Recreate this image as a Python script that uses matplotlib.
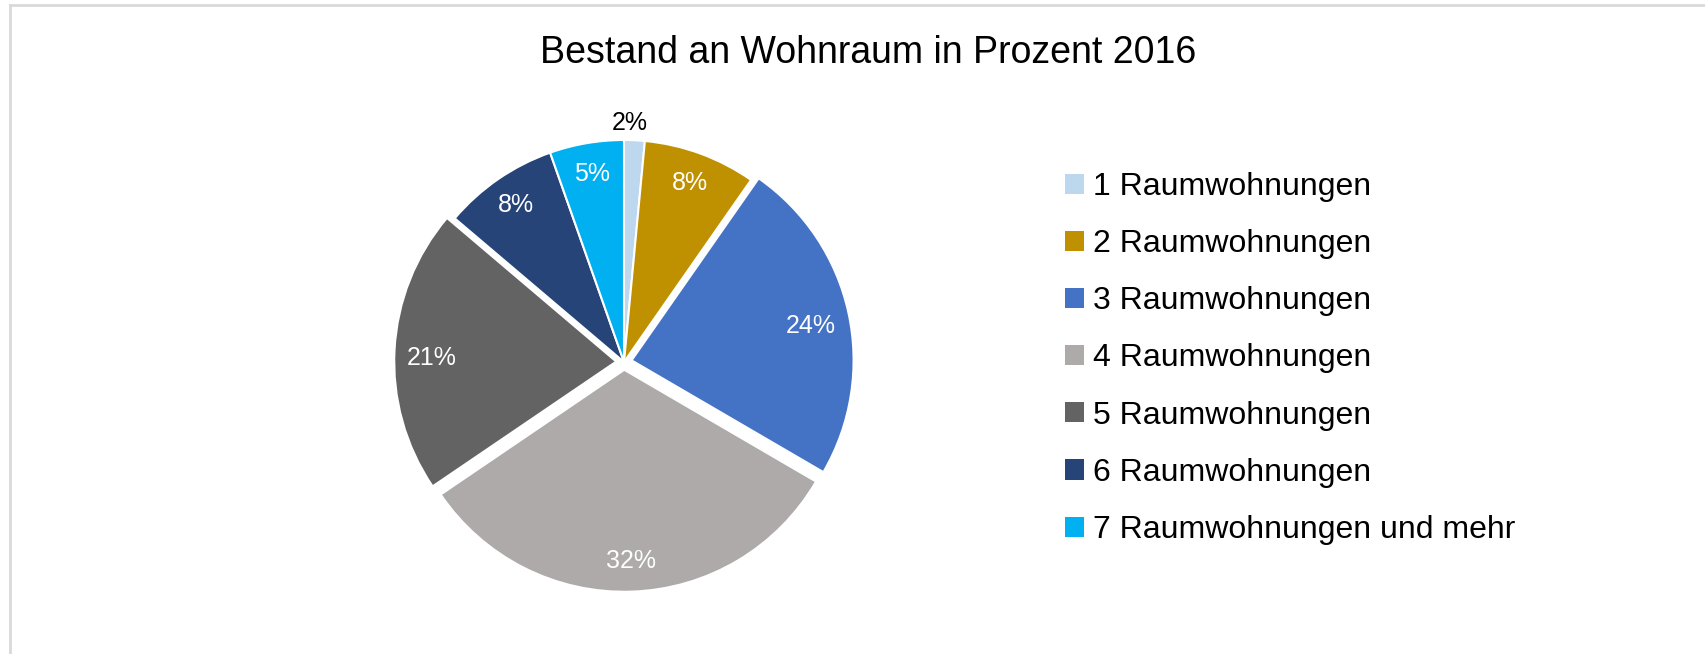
import matplotlib
matplotlib.use("Agg")
import matplotlib.pyplot as plt
from matplotlib.lines import Line2D
from matplotlib.patches import Patch
import numpy as np

plt.rcParams['font.family'] = ['Liberation Sans', 'DejaVu Sans']

title = "Bestand an Wohnraum in Prozent 2016"
categories = ["1 Raumwohnungen", "2 Raumwohnungen", "3 Raumwohnungen",
              "4 Raumwohnungen", "5 Raumwohnungen", "6 Raumwohnungen",
              "7 Raumwohnungen und mehr"]
values = [1.5, 8.2, 23.7, 32.1, 20.7, 8.4, 5.4]
colors = ["#BDD7EE", "#BF9000", "#4472C4", "#AEAAAA", "#636363", "#264478", "#00B0F0"]
explode = [0, 0, 0.035, 0.035, 0.035, 0, 0]

W, H = 1705, 654
fig = plt.figure(figsize=(W / 100, H / 100), dpi=100)
fig.patch.set_facecolor("white")

# frame lines (top and left)
fig.add_artist(Line2D([10 / W, 1], [1 - 5 / H, 1 - 5 / H], color="#D9D9D9", lw=2))
fig.add_artist(Line2D([10 / W, 10 / W], [0, 1 - 5 / H], color="#D9D9D9", lw=2))

# pie axes: center (624, 362) px, radius 222 px
cx, cy, r = 624, 362, 222
half = 270
ax = fig.add_axes([(cx - half) / W, (H - cy - half) / H, 2 * half / W, 2 * half / H])

wedges, texts, autotexts = ax.pie(values, colors=colors, explode=explode,
                                  startangle=90, counterclock=False,
                                  autopct="%.0f%%", pctdistance=0.86, radius=1,
                                  wedgeprops=dict(edgecolor="white", linewidth=1.5),
                                  textprops=dict(color="white", fontsize=18))
ax.set_xlim(-half / r, half / r)
ax.set_ylim(-half / r, half / r)
ax.set_aspect("equal")
ax.axis("off")

# per-label radial distance (fraction of radius) and angular nudge (deg)
label_dist = [1.08, 0.86, 0.82, 0.86, 0.83, 0.86, 0.86]
label_rot = [0, 0, -1.5, 0, 2.0, 0, 0]
for w, t, d, e, rot in zip(wedges, autotexts, label_dist, explode, label_rot):
    mid = np.deg2rad((w.theta1 + w.theta2) / 2 + rot)
    t.set_position(((d + e) * np.cos(mid), (d + e) * np.sin(mid)))
autotexts[0].set_color("black")
x0, y0 = autotexts[0].get_position()
autotexts[0].set_position((x0 - 0.025, y0))

fig.text(868 / W, 1 - 63 / H, title, ha="center", va="baseline", fontsize=27, color="black")

handles = [Patch(facecolor=c, edgecolor="none") for c in colors]
leg = fig.legend(handles, categories, loc="upper left",
                 bbox_to_anchor=(1065 / W, 1 - 172 / H), frameon=False,
                 fontsize=23, handlelength=0.6, handleheight=0.6,
                 handletextpad=0.28, labelspacing=0.85, borderaxespad=0, borderpad=0)

fig.savefig("out.png", dpi=100, facecolor="white")
